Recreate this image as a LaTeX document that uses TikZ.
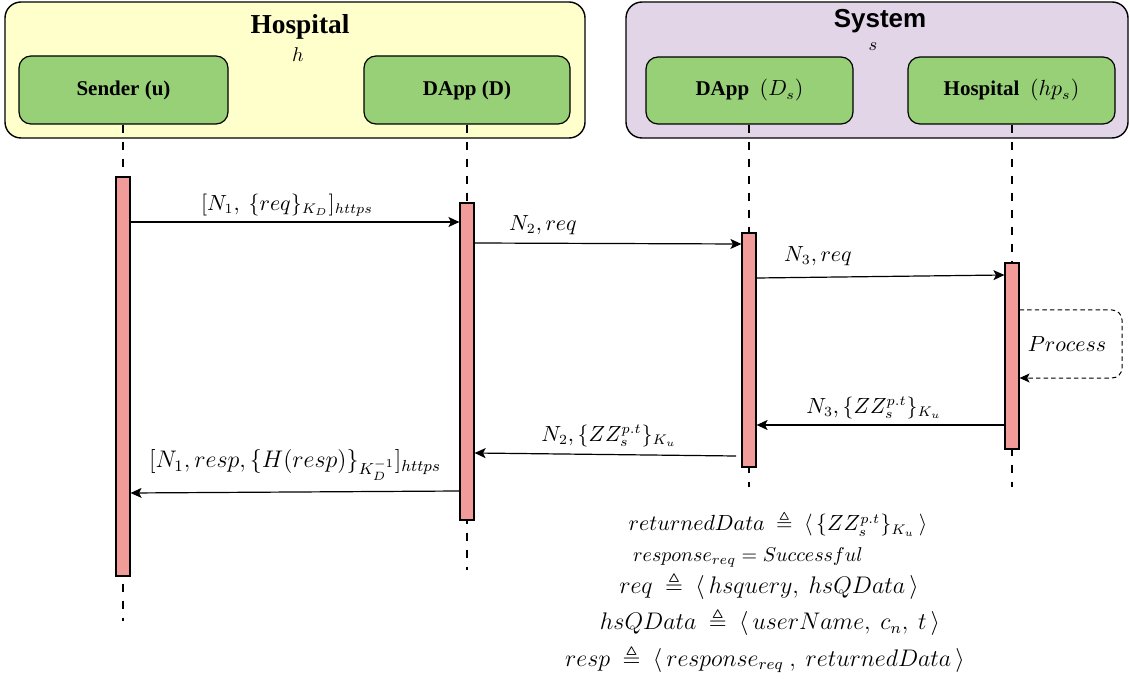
\documentclass[tikz,border=0pt]{standalone}
\usepackage{amsmath,amssymb}
\usepackage{fontspec}
\setmainfont{Liberation Serif}
\newfontfamily\sysfont{Liberation Sans}
\usetikzlibrary{arrows.meta,fit}

\definecolor{hospfill}{HTML}{FFFFCC}
\definecolor{sysfill}{HTML}{E1D5E7}
\definecolor{actorfill}{HTML}{97D077}
\definecolor{barfill}{HTML}{F19C99}

\tikzset{
  group/.style={draw=black, line width=0.7pt, rounded corners=8pt, inner sep=0pt},
  actor/.style={draw=black, line width=0.6pt, fill=actorfill, rounded corners=6pt, inner sep=0pt},
  bar/.style={draw=black, line width=0.6pt, fill=barfill, inner sep=0pt},
  life/.style={line width=1.25pt, dash pattern=on 4pt off 4.5pt},
  msg/.style={line width=0.6pt, -{Stealth[length=5.5pt,width=5pt,inset=1.3pt]}},
  loopmsg/.style={line width=0.5pt, dash pattern=on 2.2pt off 1.6pt, rounded corners=5pt,
    -{Stealth[length=5pt,width=4.5pt,inset=1.2pt]}},
  lbl/.style={inner sep=0pt, font=\fontsize{10.5}{12}\selectfont},
  defn/.style={inner sep=0pt, font=\fontsize{11.5}{13}\selectfont},
  actortext/.style={font=\fontsize{10.5}{12}\selectfont\bfseries}
}

\begin{document}
\begin{tikzpicture}[x=0.5pt, y=-0.5pt]
\useasboundingbox (0,0) rectangle (1130,679);

% group frames
\node[group, fill=hospfill, fit={(5,2)(585,138)}] (hosp) {};
\node[group, fill=sysfill, fit={(626,2)(1128,138)}] (sys) {};
\node[font=\fontsize{13.7}{15}\selectfont\bfseries] (hosptitle) at (300,27) {Hospital};
\node[font=\fontsize{10}{12}\selectfont] (hosptag) at (298,55) {$h$};
\node[font=\fontsize{13}{15}\selectfont\sysfont\bfseries] (systitle) at (880,21) {System};
\node[font=\fontsize{9}{11}\selectfont] (systag) at (873,47) {$s$};

% participants
\node[actor, fit={(19,56)(228,124)}, label={[actortext]center:Sender (u)}] (snd) {};
\node[actor, fit={(364,56)(570,124)}, label={[actortext]center:DApp (D)}] (dapp) {};
\node[actor, fit={(646,57)(853,124)}, label={[actortext]center:DApp~~{\mdseries$(D_s)$}}] (dapps) {};
\node[actor, fit={(908,57)(1115,124)}, label={[actortext]center:Hospital~~{\mdseries$(hp_s)$}}] (hps) {};

% lifeline ends
\coordinate (sndend) at (123,621);
\coordinate (dappend) at (467,570);
\coordinate (dappsend) at (749,487);
\coordinate (hpsend) at (1012,487);

% lifelines
\draw[life] (snd.south -| sndend) -- (sndend);
\draw[life] (dapp.south -| dappend) -- (dappend);
\draw[life] (dapps.south -| dappsend) -- (dappsend);
\draw[life] (hps.south -| hpsend) -- (hpsend);

% activation bars
\node[bar, fit={(116,177)(130,576)}] (sbar) {};
\node[bar, fit={(460,203)(474,520)}] (dbar) {};
\node[bar, fit={(742,233)(756,467)}] (dsbar) {};
\node[bar, fit={(1005,263)(1019,449)}] (hbar) {};

% requests
\draw[msg] (sbar.east |- 0,222) -- (dbar.west |- 0,222);
\node[lbl] (m1) at (287,205) {$[N_1,\ \{req\}_{K_D}]_{https}$};

\draw[msg] (dbar.east |- 0,243) -- (dsbar.west |- 0,244);
\node[lbl] (m2) at (543,225) {$N_2, req$};

\draw[msg] (dsbar.east |- 0,278) -- (hbar.west |- 0,275);
\node[lbl] (m3) at (818,256) {$N_3, req$};

% local processing
\coordinate (loopR) at (1122,310);
\draw[loopmsg] (hbar.east |- 0,310) -- (loopR) -- (loopR |- 0,378) -- (hbar.east |- 0,378);
\node[lbl, font=\fontsize{11}{13}\selectfont] (proc) at (1067,344) {$Process$};

% responses
\draw[msg] (hbar.west |- 0,425) -- (dsbar.east |- 0,425);
\node[lbl] (m4) at (874,408) {$N_3,\{ZZ_s^{p.t}\}_{K_u}$};

\coordinate (r2start) at (736,456);
\draw[msg] (r2start) -- (dbar.east |- 0,453);
\node[lbl] (m5) at (609,436) {$N_2,\{ZZ_s^{p.t}\}_{K_u}$};

\draw[msg] (dbar.west |- 0,491) -- (sbar.east |- 0,493);
\node[lbl, font=\fontsize{12}{14}\selectfont] (m6) at (295,465) {$[N_1,resp,\{H(resp)\}_{K_D^{-1}}]_{https}$};

% definitions
\node[defn, font=\fontsize{10.6}{12}\selectfont] (d1) at (778,524) {$returnedData\ \triangleq\ \langle\,\{ZZ_s^{p.t}\}_{K_u}\,\rangle$};
\node[defn, font=\fontsize{10}{12}\selectfont] (d2) at (748,557) {$response_{req} = Successful$};
\node[defn] (d3) at (769,586) {$req\ \triangleq\ \langle\,hsquery,\ hsQData\,\rangle$};
\node[defn] (d4) at (770,622) {$hsQData\ \triangleq\ \langle\,userName,\ c_n,\ t\,\rangle$};
\node[defn] (d5) at (765,659) {$resp\ \triangleq\ \langle\,response_{req}\ ,\ returnedData\,\rangle$};
\end{tikzpicture}
\end{document}
